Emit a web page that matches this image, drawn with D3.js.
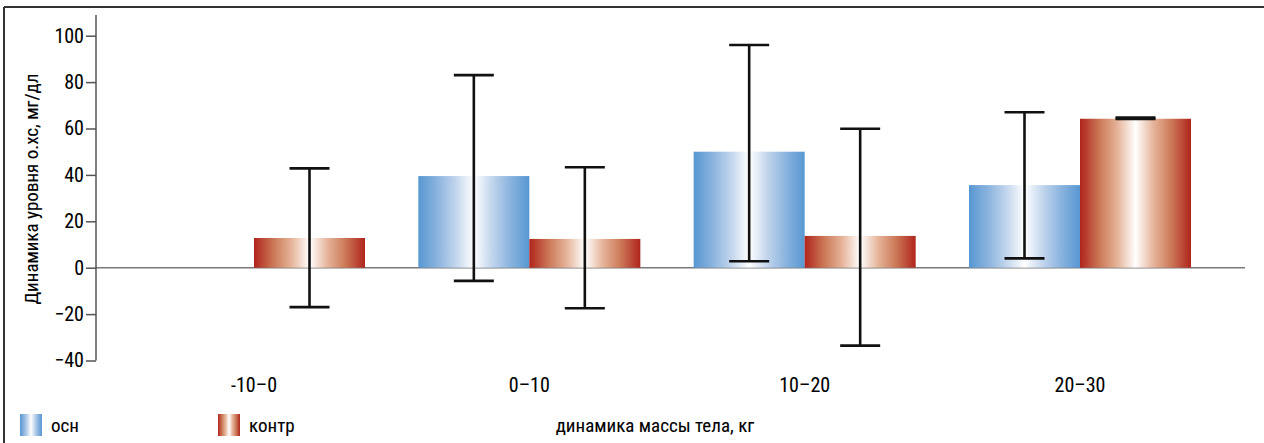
<!DOCTYPE html>
<html><head><meta charset="utf-8">
<script src="https://cdn.jsdelivr.net/npm/d3@7"></script>
<style>
html,body{margin:0;padding:0;background:#fff;}
text{font-family:"Liberation Sans Narrow","Arial Narrow","Roboto Condensed","Liberation Sans",sans-serif;fill:#000;stroke:#000;stroke-width:0.08px;}
</style></head>
<body>
<svg id="c" width="1264" height="443"></svg>
<script>
const categories = ["-10–0", "0–10", "10–20", "20–30"];
const seriesNames = ["осн", "контр"];
const oshValues = [null, 39.5, 50, 35.6];
const oshHigh = [null, 83, 96, 67];
const oshLow = [null, -5.7, 2.8, 4];
const kontrValues = [12.8, 12.4, 13.7, 64.2];
const kontrHigh = [42.8, 43.3, 59.9, 64.7];
const kontrLow = [-17, -17.5, -33.6, 64.1];
const yTicks = [-40, -20, 0, 20, 40, 60, 80, 100];
const yTitle = "Динамика уровня о.хс, мг/дл";
const xTitle = "динамика массы тела, кг";

const svg = d3.select("#c");
const defs = svg.append("defs");
function grad(id, edge, mid1, mid2){
  const g = defs.append("linearGradient").attr("id", id).attr("x1","0%").attr("x2","100%").attr("y1","0%").attr("y2","0%");
  [[0,edge],[0.18,mid1],[0.34,mid2],[0.5,"#ffffff"],[0.66,mid2],[0.82,mid1],[1,edge]].forEach(([o,c])=>{
    g.append("stop").attr("offset", o).attr("stop-color", c);
  });
}
grad("gBlue", "#5797d2", "#8db5df", "#c3d6ed");
grad("gRed", "#b0241c", "#cc7a58", "#e6b59b");

// frame
svg.append("line").attr("x1",4).attr("x2",1264).attr("y1",7).attr("y2",7).attr("stroke","#333").attr("stroke-width",2);
svg.append("line").attr("x1",4).attr("x2",4).attr("y1",7).attr("y2",443).attr("stroke","#333").attr("stroke-width",2);

const y = d3.scaleLinear().domain([-40, 100]).range([360.5, 35.7]);
const x = d3.scalePoint().domain(categories).range([254, 1080]);
const bw = 111;
const axisX = 96;

// zero line
svg.append("line").attr("x1", axisX).attr("x2", 1245).attr("y1", y(0)).attr("y2", y(0))
  .attr("stroke", "#7a7a7a").attr("stroke-width", 1.5);

// y axis
const yAxis = d3.axisLeft(y).tickValues(yTicks).tickSize(10).tickPadding(2).tickFormat(d3.format("d"));
const ga = svg.append("g").attr("transform", `translate(${axisX},0)`).call(yAxis);
ga.select(".domain").remove();
ga.selectAll(".tick line").attr("stroke", "#555").attr("stroke-width", 1.5);
ga.selectAll(".tick text").style("font-size", "20px").attr("fill", "#000");
svg.append("line").attr("x1", axisX).attr("x2", axisX).attr("y1", 15).attr("y2", y(-40))
  .attr("stroke", "#555").attr("stroke-width", 1.5);

// bars
const rows = categories.map((c, i) => ({c, o: oshValues[i], oh: oshHigh[i], ol: oshLow[i], k: kontrValues[i], kh: kontrHigh[i], kl: kontrLow[i]}));
const oshRows = rows.filter(r => r.o !== null);
svg.selectAll("rect.osh").data(oshRows).join("rect").attr("class","osh")
  .attr("x", d => x(d.c) - bw).attr("width", bw)
  .attr("y", d => y(d.o)).attr("height", d => y(0) - y(d.o))
  .attr("fill", "url(#gBlue)");
svg.selectAll("rect.kon").data(rows).join("rect").attr("class","kon")
  .attr("x", d => x(d.c)).attr("width", bw)
  .attr("y", d => y(d.k)).attr("height", d => y(0) - y(d.k))
  .attr("fill", "url(#gRed)");

// error bars
const errs = [];
oshRows.forEach(r => errs.push({cx: x(r.c) - bw/2, hi: r.oh, lo: r.ol}));
rows.forEach(r => errs.push({cx: x(r.c) + bw/2, hi: r.kh, lo: r.kl}));
const eg = svg.append("g").attr("stroke", "#111").attr("stroke-width", 2.6);
errs.forEach(e => {
  eg.append("line").attr("x1", e.cx).attr("x2", e.cx).attr("y1", y(e.hi)).attr("y2", y(e.lo));
  eg.append("line").attr("x1", e.cx - 20).attr("x2", e.cx + 20).attr("y1", y(e.hi)).attr("y2", y(e.hi));
  eg.append("line").attr("x1", e.cx - 20).attr("x2", e.cx + 20).attr("y1", y(e.lo)).attr("y2", y(e.lo));
});

// category labels
svg.selectAll("text.cat").data(categories).join("text").attr("class","cat")
  .attr("x", d => x(d)).attr("y", 392).attr("text-anchor", "middle")
  .style("font-size", "20px").text(d => d);

// axis titles
svg.append("text").attr("transform", `translate(38,${189}) rotate(-90)`).attr("text-anchor", "middle")
  .style("font-size", "19px").text(yTitle);
svg.append("text").attr("x", 655).attr("y", 432).attr("text-anchor", "middle")
  .style("font-size", "19px").text(xTitle);

// legend
const legX = [20, 218];
seriesNames.forEach((n, i) => {
  svg.append("rect").attr("x", legX[i]).attr("y", 414).attr("width", 22).attr("height", 22)
    .attr("fill", i === 0 ? "url(#gBlue)" : "url(#gRed)");
  svg.append("text").attr("x", legX[i] + 31).attr("y", 432).style("font-size", "19px").text(n);
});
</script>
</body></html>
